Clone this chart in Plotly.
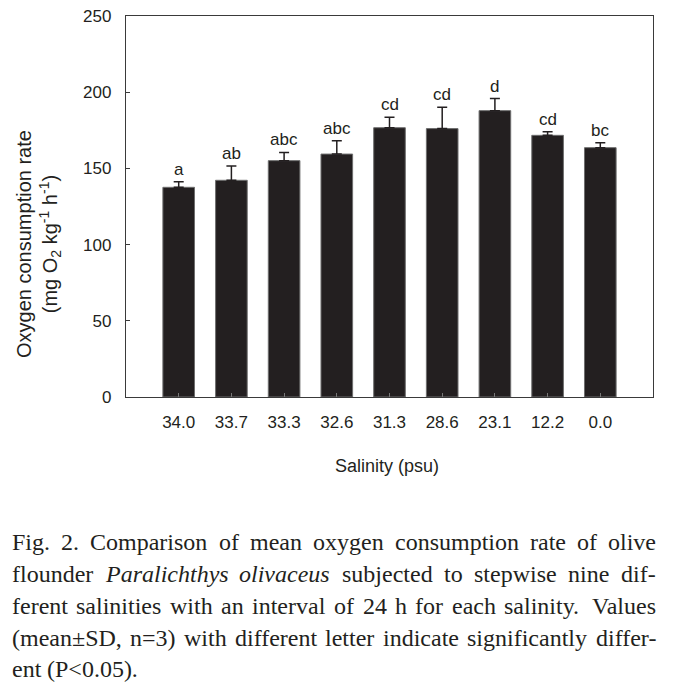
import plotly.graph_objects as go

# ---- data ----
salinity = ["34.0", "33.7", "33.3", "32.6", "31.3", "28.6", "23.1", "12.2", "0.0"]
mean_rate = [137.6, 142.2, 155.1, 159.4, 176.7, 176.1, 187.9, 171.7, 163.6]
sd_rate = [3.7, 9.4, 5.4, 8.8, 6.8, 14.0, 7.9, 2.4, 3.3]
letters = ["a", "ab", "abc", "abc", "cd", "cd", "d", "cd", "bc"]
y_ticks = [0, 50, 100, 150, 200, 250]

caption_lines = [
    ["Fig.", "2.", "Comparison", "of", "mean", "oxygen", "consumption", "rate", "of", "olive"],
    ["flounder", "<i>Paralichthys</i>", "<i>olivaceus</i>", "subjected", "to", "stepwise", "nine", "dif-"],
    ["ferent", "salinities", "with", "an", "interval", "of", "24", "h", "for", "each", "salinity.", "Values"],
    ["(mean±SD,", "n=3)", "with", "different", "letter", "indicate", "significantly", "differ-"],
    ["ent", "(P&lt;0.05)."],
]

# ---- layout geometry (pixels, reference page coordinates) ----
OFF = 8                      # default page body margin
W, H = 675 - 2 * OFF, 691 - 2 * OFF
PLOT_L, PLOT_R, PLOT_T, PLOT_B = 126, 653, 16, 397
ML = PLOT_L - OFF
MR = W - (PLOT_R - OFF)
MT = PLOT_T - OFF
MB = H - (PLOT_B - OFF)
PW, PH = W - ML - MR, H - MT - MB
INK = "#231f20"

def px2x(px):
    return (px - OFF - ML) / PW

def px2y(py):
    return ((PLOT_B - OFF) - (py - OFF)) / PH

# Times (Liberation Serif) approximate advance widths, per 1000 em
ROMAN = dict(zip("abcdefghijklmnopqrstuvwxyz",
                 [444, 500, 444, 500, 444, 333, 500, 500, 278, 278, 500, 278, 778,
                  500, 500, 500, 500, 333, 389, 278, 500, 500, 722, 500, 500, 444]))
ROMAN.update({"F": 556, "C": 667, "P": 556, "V": 722, "S": 556, "D": 722,
              ".": 250, ",": 250, "(": 333, ")": 333, "-": 333, "±": 564,
              "=": 564, "<": 564, " ": 250})
for d in "0123456789":
    ROMAN[d] = 500
ITALIC = dict(zip("abcdefghijklmnopqrstuvwxyz",
                  [500, 500, 444, 500, 444, 278, 500, 500, 278, 278, 444, 278, 722,
                   500, 500, 500, 500, 389, 389, 278, 500, 444, 667, 444, 444, 389]))
ITALIC.update({"P": 611})

CAP_FS = 24

def word_width(w):
    if w.startswith("<i>"):
        s, table = w[3:-4], ITALIC
    else:
        s, table = w.replace("&lt;", "<"), ROMAN
    return sum(table.get(ch, 500) for ch in s) / 1000.0 * CAP_FS

fig = go.Figure()
fig.add_trace(go.Bar(
    x=salinity, y=mean_rate, width=0.6,
    marker=dict(color=INK, line=dict(color="#6e6e6e", width=1)),
    error_y=dict(type="data", array=sd_rate, arrayminus=[0] * len(sd_rate),
                 symmetric=False, color=INK, thickness=1.5, width=5),
    showlegend=False,
))

annotations = []
for i, (m, e, l) in enumerate(zip(mean_rate, sd_rate, letters)):
    annotations.append(dict(x=i, y=m + e, xref="x", yref="y", text=l, showarrow=False,
                            yanchor="bottom", yshift=1,
                            font=dict(family="Liberation Sans, Arial", size=17, color=INK)))

# y-axis title (two lines)
annotations.append(dict(
    x=px2x(38), y=px2y(244), xref="paper", yref="paper", showarrow=False,
    textangle=-90, xanchor="center", yanchor="middle",
    text="Oxygen consumption rate<br>(mg O<sub>2</sub> kg<sup>-1</sup> h<sup>-1</sup>)",
    font=dict(family="Liberation Sans, Arial", size=20, color=INK)))

# x-axis title
annotations.append(dict(
    x=px2x(387), y=px2y(466), xref="paper", yref="paper", showarrow=False,
    xanchor="center", yanchor="middle", text="Salinity (psu)",
    font=dict(family="Liberation Sans, Arial", size=18, color=INK)))

# caption, justified word by word
left_px, right_px = 12, 656
line_y = [542, 574, 606, 638, 669]
for li, (words, ly) in enumerate(zip(caption_lines, line_y)):
    widths = [word_width(w) for w in words]
    justify = li < len(caption_lines) - 1
    if justify:
        gap = (right_px - left_px - sum(widths)) / (len(words) - 1)
    else:
        gap = 0.25 * CAP_FS
    xpos = left_px
    for wi, (w, ww) in enumerate(zip(words, widths)):
        if justify and wi == len(words) - 1:
            ax, anchor = right_px, "right"
        else:
            ax, anchor = xpos, "left"
        annotations.append(dict(
            x=px2x(ax), y=px2y(ly), xref="paper", yref="paper", showarrow=False,
            xanchor=anchor, yanchor="middle", text=w, borderpad=0, borderwidth=0,
            font=dict(family="Liberation Serif, Times New Roman", size=CAP_FS, color=INK)))
        xpos += ww + gap

fig.update_layout(
    width=W, height=H,
    margin=dict(l=ML, r=MR, t=MT, b=MB, autoexpand=False),
    plot_bgcolor="white", paper_bgcolor="white",
    font=dict(family="Liberation Sans, Arial", color=INK),
    annotations=annotations,
)
fig.update_xaxes(
    type="category", range=[-1, len(salinity)], automargin=False,
    showline=True, linecolor="#3a3a3a", linewidth=1.3, mirror=True,
    ticks="inside", ticklen=4, tickcolor="#777777", tickwidth=1,
    tickfont=dict(size=17, color=INK), ticklabelstandoff=9,
    ticklabeloverflow="allow",
    showgrid=False, zeroline=False,
)
fig.update_yaxes(
    range=[0, 250], tickvals=y_ticks, automargin=False,
    showline=True, linecolor="#3a3a3a", linewidth=1.3, mirror=True,
    ticks="inside", ticklen=4, tickcolor="#3a3a3a", tickwidth=1,
    tickfont=dict(size=17, color=INK), ticklabelstandoff=10,
    ticklabeloverflow="allow",
    showgrid=False, zeroline=False,
)

fig.write_html("out.html")
